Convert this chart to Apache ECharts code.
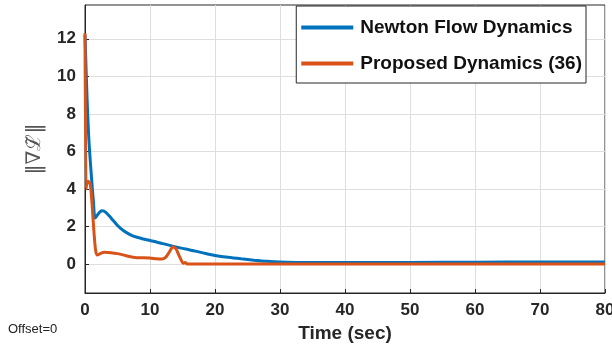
<!DOCTYPE html>
<html>
<head>
<meta charset="utf-8">
<script src="https://cdn.jsdelivr.net/npm/echarts@6/dist/echarts.min.js"></script>
<style>
  html, body { margin: 0; padding: 0; background: #fff; }
  #chart { width: 612px; height: 345px; }
</style>
</head>
<body>
<div id="chart"></div>
<script>
// time (sec) and gradient norm
var newtonT = [0, 0.3, 0.6, 1.0, 1.3, 1.55, 1.9, 2.3, 2.7, 3.2, 4, 5, 6, 7, 8, 9, 10, 11, 12, 13.5, 15, 16, 17, 18, 19, 20, 22, 24, 26, 28, 30, 33, 36, 40, 50, 60, 70, 80];
var newtonV = [12.2, 9.0, 6.6, 4.6, 3.3, 2.45, 2.6, 2.78, 2.84, 2.75, 2.45, 2.05, 1.75, 1.55, 1.42, 1.33, 1.25, 1.17, 1.08, 0.95, 0.83, 0.76, 0.68, 0.6, 0.52, 0.45, 0.35, 0.27, 0.2, 0.14, 0.1, 0.08, 0.07, 0.07, 0.08, 0.09, 0.1, 0.1];

var proposedT = [0, 0.15, 0.3, 0.5, 0.8, 1.0, 1.2, 1.4, 1.6, 1.8, 2.1, 2.5, 3, 4, 5, 6, 7, 8, 9, 10, 11, 11.8, 12.4, 13, 13.5, 14, 14.4, 14.8, 15.1, 15.4, 15.7, 16, 17, 20, 30, 40, 50, 60, 70, 80];
var proposedV = [12.3, 4.0, 4.3, 4.4, 4.25, 3.6, 2.6, 1.6, 0.8, 0.48, 0.5, 0.58, 0.62, 0.6, 0.55, 0.47, 0.38, 0.33, 0.33, 0.32, 0.27, 0.26, 0.35, 0.65, 0.92, 0.8, 0.5, 0.2, 0.03, 0.08, 0.0, 0.0, 0.0, 0.0, 0.0, 0.0, 0.0, 0.0, 0.0, 0.0];

var yTicks = [0, 2, 4, 6, 8, 10, 12];

function pairs(t, v) {
    return t.map(function (x, i) { return [x, v[i]]; });
}

var chart = echarts.init(document.getElementById("chart"), null, { renderer: "canvas" });

var axisColor = "#262626";
var gridColor = "#dedede";
var font = "Liberation Sans, Arial";

var option = {
    animation: false,
    backgroundColor: "#fff",
    grid: { left: 85, right: 7, top: 5, bottom: 52, show: true, borderColor: axisColor, borderWidth: 1, containLabel: false, outerBoundsMode: "none" },
    legend: {
        show: true,
        right: 26,
        top: 6,
        orient: "vertical",
        backgroundColor: "#fff",
        borderColor: axisColor,
        borderWidth: 1,
        padding: [12, 4, 10, 5],
        itemGap: 17,
        itemWidth: 52,
        itemHeight: 4,
        icon: "rect",
        textStyle: { fontFamily: font, fontWeight: "bold", fontSize: 19, color: "#111", padding: [0, 0, 0, 2] },
        data: ["Newton Flow Dynamics", "Proposed Dynamics (36)"]
    },
    xAxis: {
        type: "value",
        min: 0,
        max: 80,
        interval: 10,
        name: "Time (sec)",
        nameLocation: "middle",
        nameGap: 29,
        nameTextStyle: { fontFamily: font, fontWeight: "bold", fontSize: 19, color: axisColor },
        axisLine: { show: true, onZero: false, lineStyle: { color: axisColor } },
        axisTick: { show: true, inside: true, length: 4, lineStyle: { color: axisColor } },
        axisLabel: { fontFamily: font, fontWeight: "bold", fontSize: 17, color: axisColor, margin: 9 },
        splitLine: { show: true, lineStyle: { color: gridColor, width: 1 } }
    },
    yAxis: {
        type: "value",
        min: -1.55,
        max: 13.8,
        name: "\u2016\u2207\u2112\u0303\u2016",
        nameLocation: "middle",
        nameGap: 40,
        nameRotate: 90,
        nameTextStyle: { fontFamily: "DejaVu Serif", fontSize: 20, color: "#555" },
        axisLine: { show: true, lineStyle: { color: axisColor } },
        axisTick: { show: true, inside: true, length: 4, customValues: yTicks, lineStyle: { color: axisColor } },
        axisLabel: { fontFamily: font, fontWeight: "bold", fontSize: 17, color: axisColor, margin: 9, customValues: yTicks },
        splitLine: { show: true, lineStyle: { color: gridColor, width: 1 } }
    },
    series: [
        {
            name: "Newton Flow Dynamics",
            type: "line",
            data: pairs(newtonT, newtonV),
            showSymbol: false,
            smooth: 0.3,
            lineStyle: { color: "#0072BD", width: 3 },
            itemStyle: { color: "#0072BD" },
            z: 3
        },
        {
            name: "Proposed Dynamics (36)",
            type: "line",
            data: pairs(proposedT, proposedV),
            showSymbol: false,
            smooth: 0.2,
            lineStyle: { color: "#D95319", width: 3 },
            itemStyle: { color: "#D95319" },
            z: 4
        }
    ],
    graphic: [
        {
            type: "text",
            left: 8,
            top: 323,
            style: { text: "Offset=0", fontFamily: font, fontSize: 13, fill: "#222" }
        }
    ]
};

chart.setOption(option);
</script>
</body>
</html>
